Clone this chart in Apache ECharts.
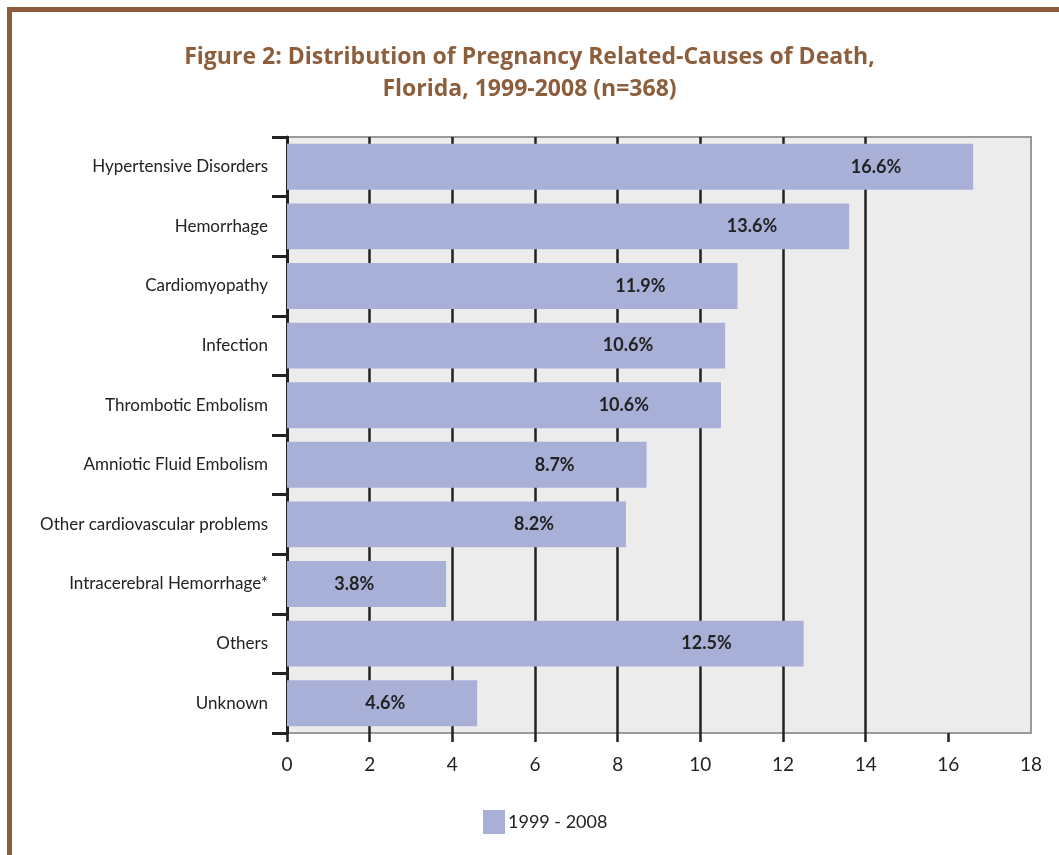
<!DOCTYPE html>
<html lang="en">
<head>
    <meta charset="UTF-8">
    <title>Figure 2</title>
    <script src="https://cdn.jsdelivr.net/npm/echarts@6/dist/echarts.min.js"></script>
    <style>
        html, body { margin: 0; padding: 0; background: #fff; }
        #main { width: 1059px; height: 855px; }
    </style>
</head>
<body>
<div id="main"></div>
<script>
    // data
    var categories = ['Hypertensive Disorders', 'Hemorrhage', 'Cardiomyopathy', 'Infection',
        'Thrombotic Embolism', 'Amniotic Fluid Embolism', 'Other cardiovascular problems',
        'Intracerebral Hemorrhage*', 'Others', 'Unknown'];
    var barValues = [16.6, 13.6, 10.9, 10.6, 10.5, 8.7, 8.2, 3.85, 12.5, 4.6];
    var barLabels = ['16.6%', '13.6%', '11.9%', '10.6%', '10.6%', '8.7%', '8.2%', '3.8%', '12.5%', '4.6%'];
    var seriesName = '1999 - 2008';
    // tick marks below the plot (none at 18 in the original)
    var xTickValues = [0, 2, 4, 6, 8, 10, 12, 14, 16];

    var brown = '#8c5e3c';
    var lightFont = 'Lato, sans-serif';

    var myChart = echarts.init(document.getElementById('main'));

    var option = {
        backgroundColor: '#fff',
        animation: false,
        title: {
            text: 'Figure 2: Distribution of Pregnancy Related-Causes of Death,\nFlorida, 1999-2008 (n=368)',
            left: 'center',
            top: 36,
            textStyle: {
                color: brown,
                fontFamily: "'Open Sans', sans-serif",
                fontWeight: 'bold',
                fontSize: 23,
                lineHeight: 32
            }
        },
        legend: {
            data: [seriesName],
            bottom: 16,
            left: 478,
            icon: 'rect',
            itemWidth: 22,
            itemHeight: 24,
            itemGap: 4,
            textStyle: { color: '#222', fontSize: 18, fontFamily: lightFont, padding: [0, 0, 0, -2] }
        },
        grid: {
            left: 287,
            right: 28,
            top: 137,
            bottom: 122,
            show: true,
            backgroundColor: '#ececec',
            borderColor: '#9a9a9a',
            borderWidth: 2
        },
        xAxis: {
            type: 'value',
            min: 0,
            max: 18,
            interval: 2,
            axisLine: { show: false },
            axisTick: { show: true, length: 9, customValues: xTickValues, lineStyle: { color: '#222', width: 2.5 } },
            axisLabel: { color: '#222', fontSize: 19, fontFamily: lightFont, margin: 22 },
            splitLine: { show: true, showMaxLine: false, lineStyle: { color: '#222', width: 2.5 } }
        },
        yAxis: {
            type: 'category',
            data: categories,
            inverse: true,
            axisLine: { show: true, lineStyle: { color: '#222', width: 3 } },
            axisTick: { show: true, length: 15, lineStyle: { color: '#222', width: 3 } },
            axisLabel: { color: '#222', fontSize: 17, fontFamily: lightFont, margin: 19 }
        },
        series: [{
            name: seriesName,
            type: 'bar',
            data: barValues,
            barCategoryGap: '23%',
            itemStyle: { color: '#a9b0d8' },
            label: {
                show: true,
                position: 'insideRight',
                distance: 72,
                color: '#222',
                fontWeight: 'bold',
                fontSize: 18,
                fontFamily: 'Lato, sans-serif',
                formatter: function (p) { return barLabels[p.dataIndex]; }
            }
        }],
        graphic: [
            { type: 'rect', shape: { x: 7, y: 7, width: 1060, height: 5 }, style: { fill: brown } },
            { type: 'rect', shape: { x: 7, y: 7, width: 5, height: 860 }, style: { fill: brown } }
        ]
    };

    myChart.setOption(option);
</script>
</body>
</html>
